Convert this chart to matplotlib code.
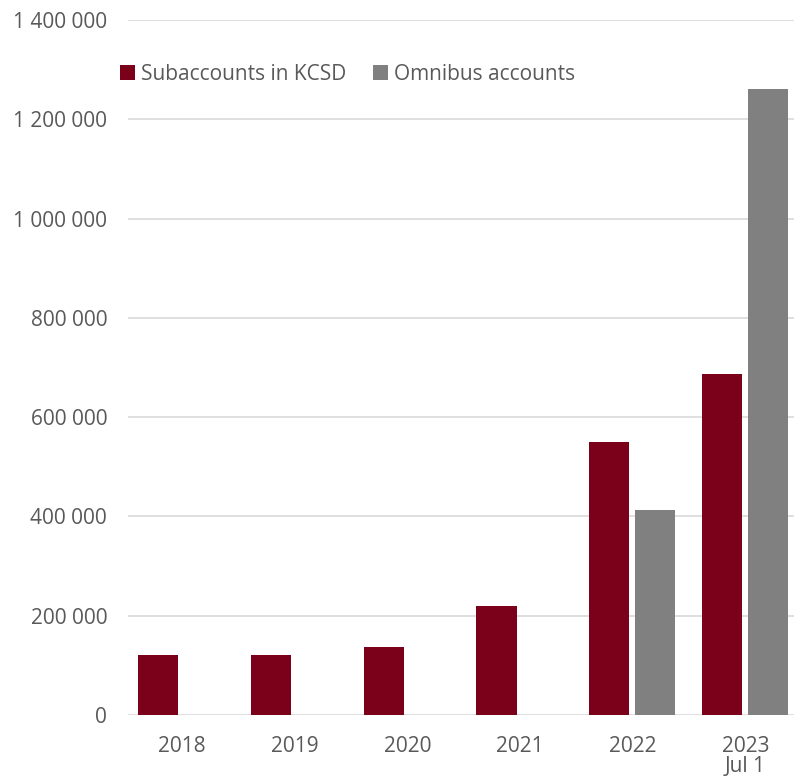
import numpy as np
import matplotlib.pyplot as plt

plt.rcParams['font.family'] = ['Open Sans', 'DejaVu Sans']

years = ['2018', '2019', '2020', '2021', '2022', '2023\nJul 1']
subaccounts = [120000, 121000, 136000, 220000, 550000, 686000]
omnibus = [np.nan, np.nan, np.nan, np.nan, 412000, 1261000]

red = '#7B0019'
grey = '#808080'
txt = '#595959'

fig = plt.figure(figsize=(7.94, 7.77), dpi=100)
ax = fig.add_axes([128 / 794, 62 / 777, 1 - 128 / 794, 695 / 777])

x = np.arange(len(years))
w = 0.355
ax.bar(x - 0.21, subaccounts, w, color=red, label='Subaccounts in KCSD', zorder=3)
ax.bar(x + 0.2, omnibus, w, color=grey, label='Omnibus accounts', zorder=3)

ax.set_xlim(-0.48, 5.43)
ax.set_ylim(0, 1400000)
ax.set_yticks(np.arange(0, 1400001, 200000))
ax.set_yticklabels([f'{v:,}'.replace(',', ' ') for v in range(0, 1400001, 200000)])
ax.set_xticks(x)
ax.set_xticklabels(years, linespacing=0.95)

ax.grid(axis='y', color='#d9d9d9', linewidth=1.2, zorder=0)
for s in ax.spines.values():
    s.set_visible(False)
ax.tick_params(axis='y', length=0, pad=15, labelsize=15, labelcolor=txt)
ax.tick_params(axis='x', length=0, pad=15, labelsize=15, labelcolor=txt)

ax.legend(loc='center left', bbox_to_anchor=(120 / 794, 1 - 74 / 777),
          bbox_transform=fig.transFigure, ncol=2, frameon=False,
          fontsize=15, labelcolor=txt, handlelength=0.7, handleheight=0.7,
          handletextpad=0.3, columnspacing=1.3, borderaxespad=0, borderpad=0)

fig.savefig('out.png', dpi=100)
